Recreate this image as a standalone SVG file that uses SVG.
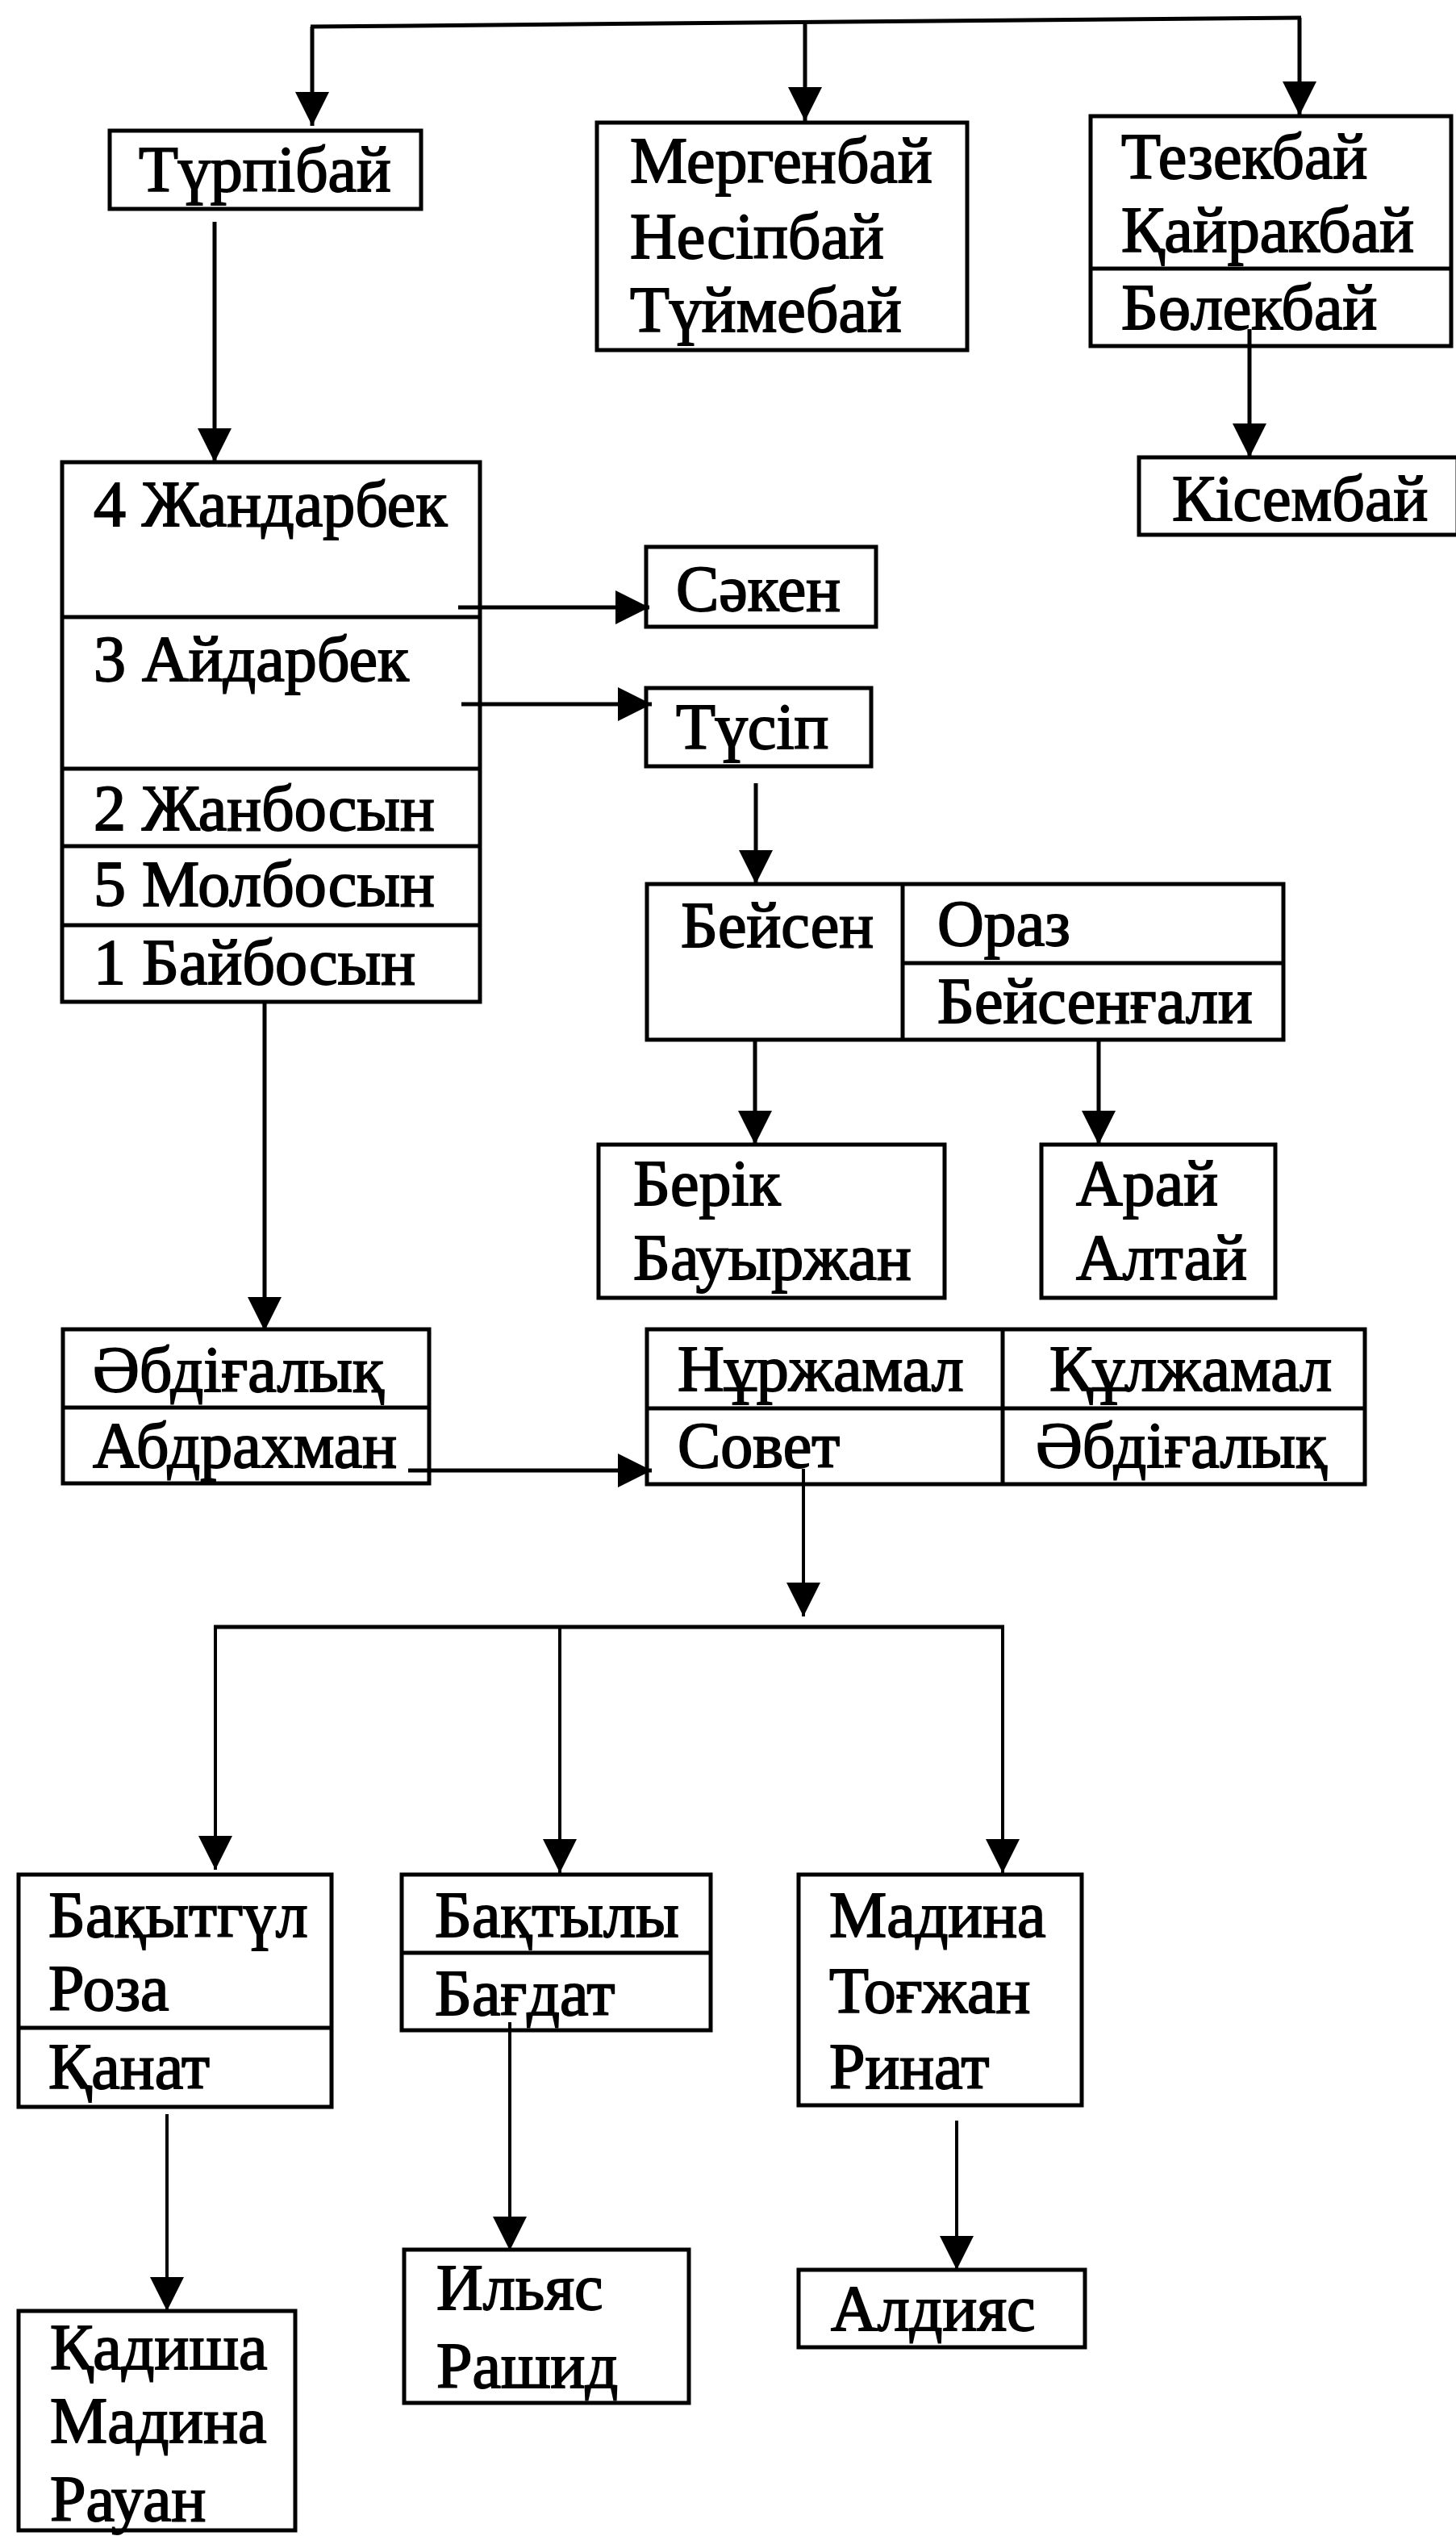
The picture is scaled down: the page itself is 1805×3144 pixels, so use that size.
<svg xmlns="http://www.w3.org/2000/svg" width="1805" height="3144" viewBox="0 0 1805 3144">
<style>
.t{font-family:"Liberation Serif","Times New Roman",serif;font-size:80px;fill:#000;stroke:#000;stroke-width:1.8}
.b{fill:none;stroke:#000;stroke-width:5}
.c{fill:none;stroke:#000;stroke-width:5}
.cn{fill:none;stroke:#000;stroke-width:4}
</style>
<defs>
<marker id="ah" markerUnits="userSpaceOnUse" markerWidth="42" markerHeight="42" viewBox="0 0 42 42" refX="42" refY="21" orient="auto">
<path d="M0,0 L42,21 L0,42 z" fill="#000"/>
</marker>
</defs>
<rect width="1805" height="3144" fill="#fff"/>
<g id="connectors">
<line class="c" x1="385" y1="33" x2="1613" y2="22" stroke-width="6"/>
<line class="c" x1="387" y1="33" x2="387" y2="156" marker-end="url(#ah)"/>
<line class="c" x1="998" y1="28" x2="998" y2="150" marker-end="url(#ah)"/>
<line class="c" x1="1611" y1="22" x2="1611" y2="143" marker-end="url(#ah)"/>
<line class="c" x1="266" y1="275" x2="266" y2="573" marker-end="url(#ah)"/>
<line class="c" x1="1549" y1="408" x2="1549" y2="567" marker-end="url(#ah)"/>
<line class="c" x1="568" y1="753" x2="805" y2="753" marker-end="url(#ah)"/>
<line class="c" x1="572" y1="873" x2="808" y2="873" marker-end="url(#ah)"/>
<line class="c" x1="937" y1="971" x2="937" y2="1096" marker-end="url(#ah)"/>
<line class="c" x1="936" y1="1289" x2="936" y2="1419" marker-end="url(#ah)"/>
<line class="c" x1="1362" y1="1289" x2="1362" y2="1419" marker-end="url(#ah)"/>
<line class="c" x1="328" y1="1242" x2="328" y2="1650" marker-end="url(#ah)"/>
<line class="c" x1="506" y1="1823" x2="808" y2="1823" marker-end="url(#ah)"/>
<line class="cn" x1="996" y1="1821" x2="996" y2="2004" marker-end="url(#ah)"/>
<line class="c" x1="265" y1="2017" x2="1245" y2="2017" stroke-width="6"/>
<line class="cn" x1="267" y1="2017" x2="267" y2="2318" marker-end="url(#ah)"/>
<line class="cn" x1="694" y1="2017" x2="694" y2="2322" marker-end="url(#ah)"/>
<line class="cn" x1="1243" y1="2017" x2="1243" y2="2322" marker-end="url(#ah)"/>
<line class="cn" x1="207" y1="2621" x2="207" y2="2865" marker-end="url(#ah)"/>
<line class="cn" x1="632" y1="2507" x2="632" y2="2790" marker-end="url(#ah)"/>
<line class="cn" x1="1186" y1="2629" x2="1186" y2="2814" marker-end="url(#ah)"/>
</g>
<g id="turpibai">
<rect class="b" x="136" y="162" width="386" height="97"/>
<text class="t" x="172" y="237">Түрпібай</text>
</g>
<g id="mergenbai">
<rect class="b" x="740" y="152" width="459" height="282"/>
<text class="t" x="781" y="226">Мергенбай</text>
<text class="t" x="781" y="320">Несіпбай</text>
<text class="t" x="781" y="411">Түймебай</text>
</g>
<g id="tezekbai">
<rect class="b" x="1352" y="144" width="447" height="285"/>
<line class="b" x1="1352" y1="333" x2="1799" y2="333"/>
<text class="t" x="1390" y="221">Тезекбай</text>
<text class="t" x="1390" y="312">Қайракбай</text>
<text class="t" x="1390" y="408">Бөлекбай</text>
</g>
<g id="kisembai">
<rect class="b" x="1412" y="567" width="395" height="96"/>
<text class="t" x="1453" y="645">Кісембай</text>
</g>
<g id="bigbox">
<rect class="b" x="77" y="573" width="518" height="669"/>
<line class="b" x1="77" y1="765" x2="595" y2="765"/>
<line class="b" x1="77" y1="953" x2="595" y2="953"/>
<line class="b" x1="77" y1="1049" x2="595" y2="1049"/>
<line class="b" x1="77" y1="1147" x2="595" y2="1147"/>
<text class="t" x="116" y="652">4 Жандарбек</text>
<text class="t" x="116" y="844">3 Айдарбек</text>
<text class="t" x="116" y="1029">2 Жанбосын</text>
<text class="t" x="116" y="1123">5 Молбосын</text>
<text class="t" x="116" y="1220">1 Байбосын</text>
</g>
<g id="saken">
<rect class="b" x="801" y="678" width="285" height="99"/>
<text class="t" x="838" y="757">Сәкен</text>
</g>
<g id="tusip">
<rect class="b" x="801" y="853" width="279" height="97"/>
<text class="t" x="838" y="928">Түсіп</text>
</g>
<g id="beisen">
<rect class="b" x="802" y="1096" width="789" height="193"/>
<line class="b" x1="1119" y1="1096" x2="1119" y2="1289"/>
<line class="b" x1="1119" y1="1194" x2="1591" y2="1194"/>
<text class="t" x="844" y="1174">Бейсен</text>
<text class="t" x="1162" y="1172">Ораз</text>
<text class="t" x="1162" y="1268">Бейсенғали</text>
</g>
<g id="berik">
<rect class="b" x="742" y="1419" width="429" height="190"/>
<text class="t" x="785" y="1494">Берік</text>
<text class="t" x="785" y="1586">Бауыржан</text>
</g>
<g id="arai">
<rect class="b" x="1291" y="1419" width="290" height="190"/>
<text class="t" x="1334" y="1494">Арай</text>
<text class="t" x="1334" y="1586">Алтай</text>
</g>
<g id="abdigalyk">
<rect class="b" x="78" y="1648" width="454" height="191"/>
<line class="b" x1="78" y1="1745" x2="532" y2="1745"/>
<text class="t" x="115" y="1725">Әбдіғалық</text>
<text class="t" x="115" y="1819">Абдрахман</text>
</g>
<g id="nurzhamal">
<rect class="b" x="802" y="1648" width="890" height="192"/>
<line class="b" x1="802" y1="1746" x2="1692" y2="1746"/>
<line class="b" x1="1243" y1="1648" x2="1243" y2="1840"/>
<text class="t" x="840" y="1724">Нұржамал</text>
<text class="t" x="1301" y="1724">Құлжамал</text>
<text class="t" x="840" y="1819">Совет</text>
<text class="t" x="1284" y="1819">Әбдіғалық</text>
</g>
<g id="bakytgul">
<rect class="b" x="23" y="2324" width="388" height="288"/>
<line class="b" x1="23" y1="2514" x2="411" y2="2514"/>
<text class="t" x="60" y="2401">Бақытгүл</text>
<text class="t" x="60" y="2492">Роза</text>
<text class="t" x="60" y="2589">Қанат</text>
</g>
<g id="baktyly">
<rect class="b" x="498" y="2324" width="383" height="193"/>
<line class="b" x1="498" y1="2421" x2="881" y2="2421"/>
<text class="t" x="539" y="2401">Бақтылы</text>
<text class="t" x="539" y="2498">Бағдат</text>
</g>
<g id="madina">
<rect class="b" x="990" y="2324" width="351" height="286"/>
<text class="t" x="1028" y="2401">Мадина</text>
<text class="t" x="1028" y="2495">Тоғжан</text>
<text class="t" x="1028" y="2589">Ринат</text>
</g>
<g id="kadisha">
<rect class="b" x="23" y="2865" width="343" height="272"/>
<text class="t" x="62" y="2937">Қадиша</text>
<text class="t" x="62" y="3028">Мадина</text>
<text class="t" x="62" y="3125">Рауан</text>
</g>
<g id="ilyas">
<rect class="b" x="501" y="2789" width="353" height="190"/>
<text class="t" x="541" y="2863">Ильяс</text>
<text class="t" x="541" y="2960">Рашид</text>
</g>
<g id="aldiyas">
<rect class="b" x="990" y="2814" width="355" height="96"/>
<text class="t" x="1030" y="2889">Алдияс</text>
</g>
</svg>
